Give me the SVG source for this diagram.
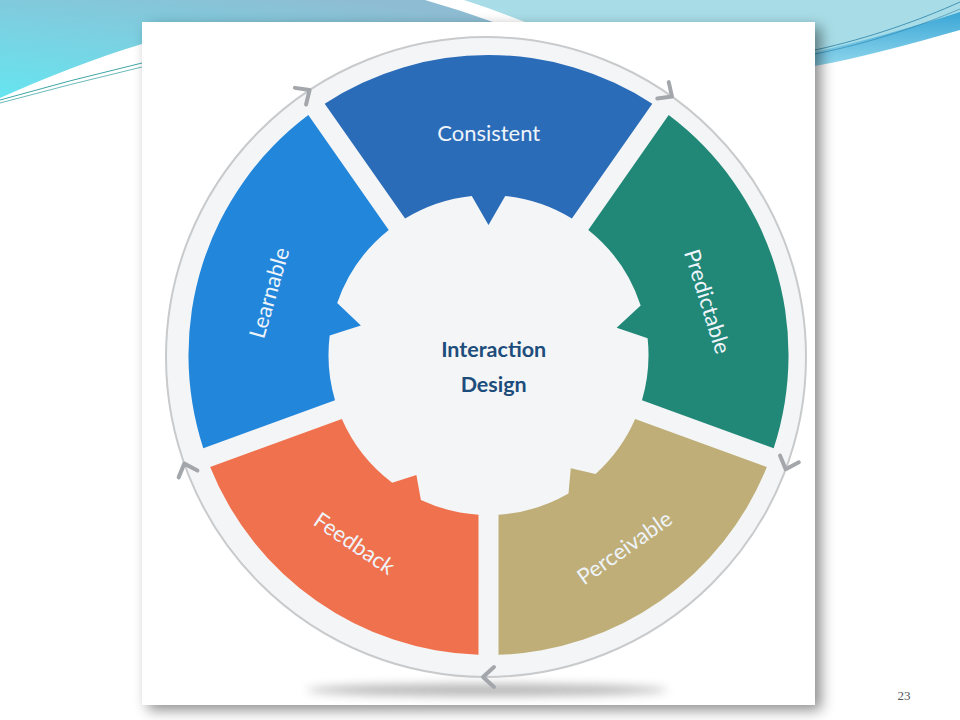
<svg xmlns="http://www.w3.org/2000/svg" width="960" height="720" viewBox="0 0 960 720">
<defs>
<style>
.seg-label{font-family:Lato,"Open Sans",sans-serif;font-size:22px;fill:#eef4fa;text-anchor:middle}
.center-label{font-family:Lato,"Open Sans",sans-serif;font-size:21.5px;font-weight:700;fill:#1d4d7c;text-anchor:middle}
.chev{fill:none;stroke:#a3a7ac;stroke-width:4;stroke-linecap:round;stroke-linejoin:round}
.ring{fill:#f4f5f6;stroke:#c8cacc;stroke-width:2}
</style>
<linearGradient id="topL" x1="0.7" y1="0" x2="0" y2="1">
<stop offset="0" stop-color="#8ebdd3"/>
<stop offset="1" stop-color="#66e5f0"/>
</linearGradient>
<linearGradient id="stripe" x1="0" y1="0" x2="0" y2="1">
<stop offset="0" stop-color="#3aa6d6"/>
<stop offset="1" stop-color="#8fd6ec"/>
</linearGradient>
<filter id="cardShadow" x="-10%" y="-10%" width="125%" height="125%">
<feDropShadow dx="6" dy="5" stdDeviation="7" flood-color="#000" flood-opacity="0.45"/>
</filter>
<filter id="blur" x="-20%" y="-200%" width="140%" height="500%">
<feGaussianBlur stdDeviation="5"/>
</filter>
</defs>

<!-- slide background -->
<rect x="0" y="0" width="960" height="720" fill="#ffffff"/>
<path d="M0,0 H425 Q460,10 493,22 H142 V44 C95,58 45,78 0,98 Z" fill="url(#topL)"/>
<path d="M464,0 H960 V20 C910,35 860,48 815,56 V22 H525 Q495,10 464,0 Z" fill="#a8dde7"/>
<path d="M815,52 C860,42 910,28 960,12 L960,30 C910,44 860,58 815,66 Z" fill="url(#stripe)"/>
<path d="M815,50 C870,38 920,20 960,2" fill="none" stroke="#2a80a8" stroke-width="0.8"/>
<path d="M815,54 C870,43 920,26 960,9" fill="none" stroke="#2a80a8" stroke-width="0.6"/>
<path d="M0,100 Q70,80 142,63" fill="none" stroke="#2a9c9c" stroke-width="0.9"/>
<path d="M0,103 Q70,84 142,67" fill="none" stroke="#2a9c9c" stroke-width="0.7"/>

<!-- card -->
<rect x="142" y="22" width="673" height="683" fill="#ffffff" filter="url(#cardShadow)"/>
<ellipse cx="487" cy="690" rx="180" ry="6" fill="#7c7c7c" opacity="0.55" filter="url(#blur)"/>

<!-- ring and arrowheads -->
<g id="connectors">
<circle class="ring" cx="486" cy="357" r="320"/>
<path class="chev" d="M-8,-10 L3,0 L-8,10" transform="translate(307.1,91.7) rotate(-34)"/>
<path class="chev" d="M-8,-10 L3,0 L-8,10" transform="translate(669.55,94.86) rotate(35)"/>
<path class="chev" d="M-8,-10 L3,0 L-8,10" transform="translate(786.7,466.44) rotate(110)"/>
<path class="chev" d="M-8,-10 L3,0 L-8,10" transform="translate(486,677) rotate(180)"/>
<path class="chev" d="M-8,-10 L3,0 L-8,10" transform="translate(185.3,466.44) rotate(250)"/>
</g>

<g id="node-consistent">
<path fill="#2b6cb9" transform="translate(488.5,355) rotate(0)" d="M-163.79,-251.36 A300,300 0 0 1 163.79,-251.36 L83.41,-136.56 A160,160 0 0 0 16.72,-159.12 L0,-130 L-16.72,-159.12 A160,160 0 0 0 -83.41,-136.56 Z"/>
<text class="seg-label" transform="translate(488.7,134)" y="7">Consistent</text>
</g>

<g id="node-predictable">
<path fill="#218878" transform="translate(488.5,355) rotate(72.5)" d="M-174.61,-243.98 A300,300 0 0 1 174.61,-243.98 L89.29,-132.79 A160,160 0 0 0 31.9,-156.79 L12.56,-130.4 L-1.4,-159.99 A160,160 0 0 0 -89.29,-132.79 Z"/>
<text class="seg-label" transform="translate(706.7,301.7) rotate(72.5)" y="7">Predictable</text>
</g>

<g id="node-perceivable">
<path fill="#bfae78" transform="translate(488.5,355) rotate(145)" d="M-163.79,-251.36 A300,300 0 0 1 163.79,-251.36 L83.41,-136.56 A160,160 0 0 0 13.95,-159.39 L-2.44,-139.98 L-19.5,-158.81 A160,160 0 0 0 -83.41,-136.56 Z"/>
<text class="seg-label" transform="translate(625,548.3) rotate(-35)" y="7">Perceivable</text>
</g>

<g id="node-feedback">
<path fill="#f0714d" transform="translate(488.5,355) rotate(215)" d="M-163.79,-251.36 A300,300 0 0 1 163.79,-251.36 L83.41,-136.56 A160,160 0 0 0 5.58,-159.9 L-9.77,-139.66 L-27.78,-157.57 A160,160 0 0 0 -83.41,-136.56 Z"/>
<text class="seg-label" transform="translate(354,544) rotate(34)" y="7">Feedback</text>
</g>

<g id="node-learnable">
<path fill="#2286db" transform="translate(488.5,355) rotate(287.5)" d="M-174.61,-243.98 A300,300 0 0 1 174.61,-243.98 L89.29,-132.79 A160,160 0 0 0 4.19,-159.95 L-10.28,-130.6 L-29.16,-157.32 A160,160 0 0 0 -89.29,-132.79 Z"/>
<text class="seg-label" transform="translate(270,293) rotate(-74)" y="7">Learnable</text>
</g>

<g id="node-interaction-design">
<text class="center-label" x="493.7" y="357.3">Interaction</text>
<text class="center-label" x="493.7" y="391.7">Design</text>
</g>

<text x="904" y="700" font-family="'Liberation Serif',serif" font-size="13" fill="#555" text-anchor="middle">23</text>
</svg>
